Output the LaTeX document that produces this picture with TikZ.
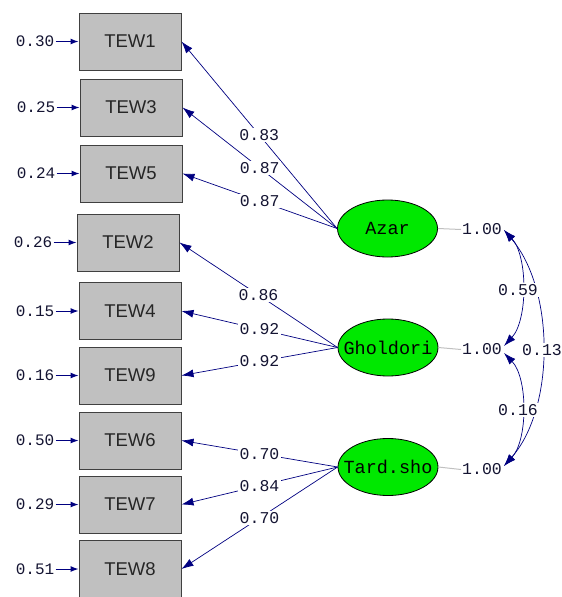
\documentclass[tikz,border=0pt]{standalone}
\usepackage{fontspec}
\setmainfont{Liberation Sans}
\newfontfamily\monofnt{Liberation Mono}
\usetikzlibrary{shapes.geometric,arrows.meta}
\definecolor{navy}{RGB}{0,0,128}
\definecolor{boxgray}{RGB}{192,192,192}
\definecolor{latgreen}{RGB}{0,232,0}
\definecolor{txt}{RGB}{20,20,50}
\tikzset{
  obs/.style={draw=black!75, line width=1pt, fill=boxgray, minimum width=102pt, minimum height=57pt, inner sep=0pt, font=\fontsize{18.5}{18.5}\selectfont, text=black!85},
  lat/.style={ellipse, draw=black, line width=0.8pt, fill=latgreen, minimum width=100pt, minimum height=57pt, inner sep=0pt},
  lattext/.style={font=\monofnt\fontsize{18.5}{18.5}\selectfont, text=black, inner sep=0pt},
  lab/.style={font=\monofnt\fontsize{16.5}{16.5}\selectfont, text=txt, inner sep=1pt},
  wlab/.style={lab, fill=white, inner sep=1.5pt},
  path/.style={draw=navy, line width=0.7pt, -{Latex[length=12pt,width=8pt]}},
  err/.style={draw=navy, line width=1pt, -{Latex[length=8pt,width=6pt]}},
  cov/.style={draw=navy, line width=0.7pt, {Latex[length=12pt,width=8pt]}-{Latex[length=12pt,width=8pt]}},
}
\begin{document}
\begin{tikzpicture}[x=1pt,y=-1pt]
\useasboundingbox (0,0) rectangle (562,597);
% observed
\node[obs] (t1) at (130,41.5) {TEW1};
\node[obs] (t3) at (131,107.5) {TEW3};
\node[obs] (t5) at (131,173.5) {TEW5};
\node[obs] (t2) at (128,242.5) {TEW2};
\node[obs] (t4) at (130,311) {TEW4};
\node[obs] (t9) at (130,375.5) {TEW9};
\node[obs] (t6) at (130,440.5) {TEW6};
\node[obs] (t7) at (130,504.5) {TEW7};
\node[obs] (t8) at (130,569) {TEW8};
% errors
\foreach \n/\v in {t1/0.30,t3/0.25,t5/0.24,t2/0.26,t4/0.15,t9/0.16,t6/0.50,t7/0.29,t8/0.51}{
  \node[lab, anchor=east, font=\monofnt\fontsize{16}{16}\selectfont] (e\n) at ([xshift=-23pt]\n.west) {\v};
  \draw[err] (e\n.east) -- (\n.west);
}
% latent
\node[lat, label={[lattext]center:Azar}] (az) at (387.5,228.5) {};
\node[lat, label={[lattext]center:Gholdori}] (gh) at (388,347.5) {};
\node[lat, label={[lattext]center:Tard.sho}] (ta) at (388,467) {};
% loadings
\draw[path] (az.west) -- node[wlab]{0.83} (t1.east);
\draw[path] (az.west) -- node[wlab]{0.87} (t3.east);
\draw[path] (az.west) -- node[wlab]{0.87} (t5.east);
\draw[path] (gh.west) -- node[wlab]{0.86} (t2.east);
\draw[path] (gh.west) -- node[wlab]{0.92} (t4.east);
\draw[path] (gh.west) -- node[wlab]{0.92} (t9.east);
\draw[path] (ta.west) -- node[wlab]{0.70} (t6.east);
\draw[path] (ta.west) -- node[wlab]{0.84} (t7.east);
\draw[path] (ta.west) -- node[wlab]{0.70} (t8.east);
% variances
\node[lab, anchor=west] (va) at (461,229.5) {1.00};
\node[lab, anchor=west] (vg) at (461,349.5) {1.00};
\node[lab, anchor=west] (vt) at (461,469.5) {1.00};
\draw[boxgray, line width=1pt] (az.east) -- (va.west);
\draw[boxgray, line width=1pt] (gh.east) -- (vg.west);
\draw[boxgray, line width=1pt] (ta.east) -- (vt.west);
% covariances
\coordinate (ca) at (504,230);
\coordinate (cg1) at (504,346);
\coordinate (cg2) at (504,353);
\coordinate (ct) at (504,466);
\draw[cov] (ca) .. controls (528,256) and (528,320) .. (cg1);
\draw[cov] (cg2) .. controls (528,378) and (528,440) .. (ct);
\draw[cov] (ca) .. controls (555,290) and (555,408) .. (ct);
\node[wlab] (c59) at (518,290) {0.59};
\node[wlab] (c16) at (518,410) {0.16};
\node[wlab] (c13) at (542,350) {0.13};
\end{tikzpicture}
\end{document}
